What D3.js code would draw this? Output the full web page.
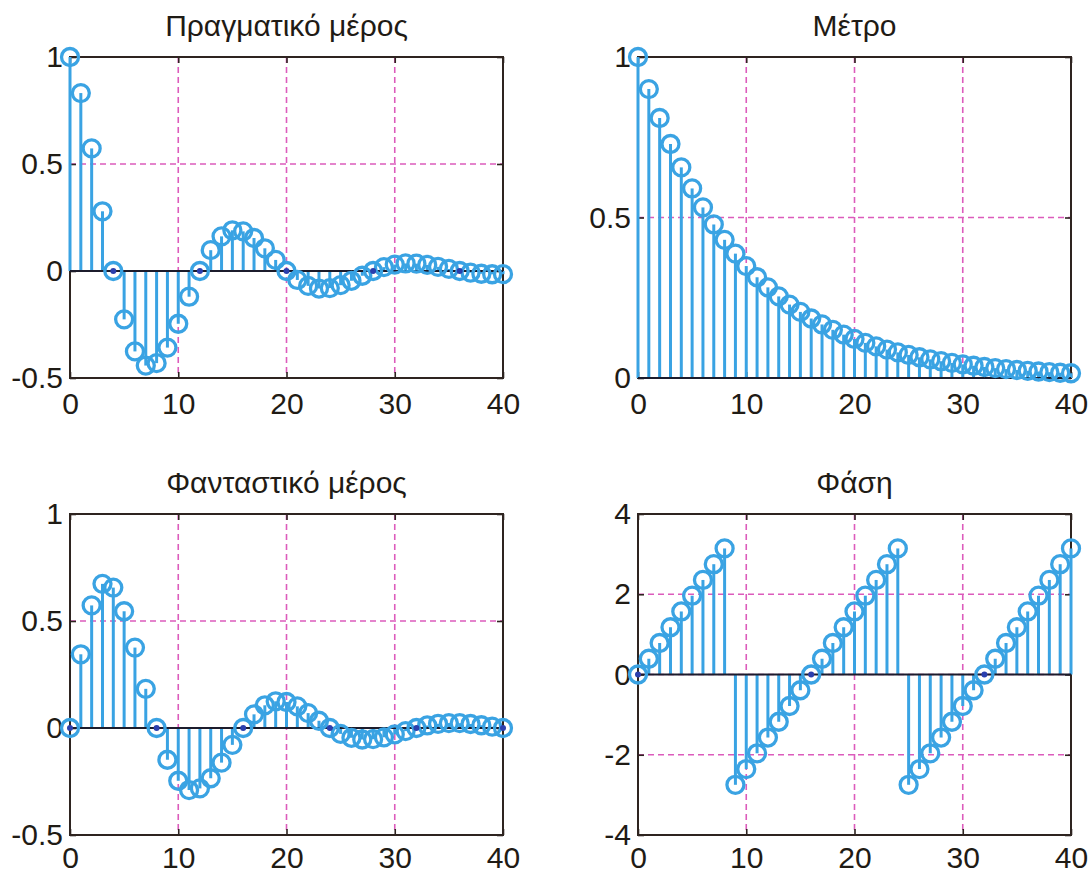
<!DOCTYPE html>
<html>
<head>
<meta charset="utf-8">
<script src="https://cdn.jsdelivr.net/npm/d3@7"></script>
<style>
  html, body { margin: 0; padding: 0; background: #fff; }
  svg { display: block; font-family: "Liberation Sans", Arial, sans-serif; }
</style>
</head>
<body>
<svg id="chart" width="1089" height="874"></svg>
<script>
// Sample index n = 0 … 40
const sampleIndex = d3.range(0, 41);

// Real part of the sequence
const realPart = [
  1.0000, 0.8315, 0.5728, 0.2790, 0.0000, -0.2260, -0.3758, -0.4419, -0.4305, -0.3579,
  -0.2466, -0.1201, 0.0000, 0.0973, 0.1618, 0.1902, 0.1853, 0.1541, 0.1061, 0.0517,
  0.0000, -0.0419, -0.0696, -0.0819, -0.0798, -0.0663, -0.0457, -0.0223, 0.0000, 0.0180,
  0.0300, 0.0352, 0.0343, 0.0286, 0.0197, 0.0096, 0.0000, -0.0078, -0.0129, -0.0152,
  -0.0148
];

// Imaginary part of the sequence
const imagPart = [
  0.0000, 0.3444, 0.5728, 0.6735, 0.6561, 0.5455, 0.3758, 0.1830, 0.0000, -0.1483,
  -0.2466, -0.2899, -0.2824, -0.2348, -0.1618, -0.0788, 0.0000, 0.0638, 0.1061, 0.1248,
  0.1216, 0.1011, 0.0696, 0.0339, 0.0000, -0.0275, -0.0457, -0.0537, -0.0523, -0.0435,
  -0.0300, -0.0146, 0.0000, 0.0118, 0.0197, 0.0231, 0.0225, 0.0187, 0.0129, 0.0063,
  0.0000
];

// Magnitude
const magnitude = [
  1.0000, 0.9000, 0.8100, 0.7290, 0.6561, 0.5905, 0.5314, 0.4783, 0.4305, 0.3874,
  0.3487, 0.3138, 0.2824, 0.2542, 0.2288, 0.2059, 0.1853, 0.1668, 0.1501, 0.1351,
  0.1216, 0.1094, 0.0985, 0.0886, 0.0798, 0.0718, 0.0646, 0.0582, 0.0523, 0.0471,
  0.0424, 0.0382, 0.0343, 0.0309, 0.0278, 0.0250, 0.0225, 0.0203, 0.0182, 0.0164,
  0.0148
];

// Phase (radians)
const phase = [
  0.0000, 0.3927, 0.7854, 1.1781, 1.5708, 1.9635, 2.3562, 2.7489, 3.1416, -2.7489,
  -2.3562, -1.9635, -1.5708, -1.1781, -0.7854, -0.3927, 0.0000, 0.3927, 0.7854, 1.1781,
  1.5708, 1.9635, 2.3562, 2.7489, 3.1416, -2.7489, -2.3562, -1.9635, -1.5708, -1.1781,
  -0.7854, -0.3927, 0.0000, 0.3927, 0.7854, 1.1781, 1.5708, 1.9635, 2.3562, 2.7489,
  3.1416
];

// Axis ticks
const xTicks = [0, 10, 20, 30, 40];
const partTicks = [-0.5, 0, 0.5, 1];
const magnitudeTicks = [0, 0.5, 1];
const phaseTicks = [-4, -2, 0, 2, 4];

const titles = ["Πραγματικό μέρος", "Μέτρο", "Φανταστικό μέρος", "Φάση"];

const panels = [
  { title: titles[0], values: realPart,  domain: [-0.5, 1], ticks: partTicks,      col: 0, row: 0 },
  { title: titles[1], values: magnitude, domain: [0, 1],    ticks: magnitudeTicks, col: 1, row: 0 },
  { title: titles[2], values: imagPart,  domain: [-0.5, 1], ticks: partTicks,      col: 0, row: 1 },
  { title: titles[3], values: phase,     domain: [-4, 4],   ticks: phaseTicks,     col: 1, row: 1 }
];

// Layout
const colX = [70, 638];
const rowY = [57, 514];
const xLabelPad = [15, 12];
const W = 433, H = 321;

const stemColor = "#3aa3e3";
const gridColor = "#dc5cbc";
const boxColor = "#2e2420";
const textColor = "#1f1b15";
const fontSize = "30px";

const svg = d3.select("#chart");

panels.forEach(p => {
  const g = svg.append("g")
    .attr("transform", `translate(${colX[p.col]},${rowY[p.row]})`);

  const x = d3.scaleLinear().domain([0, 40]).range([0, W]);
  const y = d3.scaleLinear().domain(p.domain).range([H, 0]);

  // dashed grid
  const grid = g.append("g");
  grid.selectAll(".vg").data(xTicks.slice(1, -1)).join("line")
    .attr("x1", d => x(d)).attr("x2", d => x(d))
    .attr("y1", 0).attr("y2", H);
  grid.selectAll(".hg").data(p.ticks.filter(t => t > p.domain[0] && t < p.domain[1])).join("line")
    .attr("class", "hg")
    .attr("x1", 0).attr("x2", W)
    .attr("y1", d => y(d)).attr("y2", d => y(d));
  grid.selectAll("line")
    .attr("stroke", gridColor).attr("stroke-width", 1.6)
    .attr("stroke-dasharray", "6,4");

  // axes with inward ticks
  const styleAxis = sel => {
    sel.select(".domain").remove();
    sel.selectAll(".tick line").attr("stroke", boxColor).attr("stroke-width", 1.6);
    sel.selectAll(".tick text")
      .attr("fill", textColor)
      .style("font-size", fontSize)
      .style("font-family", "'Liberation Sans', Arial, sans-serif");
  };
  g.append("g").attr("transform", `translate(0,${H})`)
    .call(d3.axisBottom(x).tickValues(xTicks).tickFormat(d3.format("d"))
      .tickSizeInner(-6).tickSizeOuter(0).tickPadding(xLabelPad[p.row]))
    .call(styleAxis);
  g.append("g")
    .call(d3.axisTop(x).tickValues(xTicks).tickFormat("").tickSizeInner(-6).tickSizeOuter(0))
    .call(styleAxis);
  g.append("g")
    .call(d3.axisLeft(y).tickValues(p.ticks).tickFormat(d => String(d))
      .tickSizeInner(-6).tickSizeOuter(0).tickPadding(7))
    .call(styleAxis);
  g.append("g").attr("transform", `translate(${W},0)`)
    .call(d3.axisRight(y).tickValues(p.ticks).tickFormat("").tickSizeInner(-6).tickSizeOuter(0))
    .call(styleAxis);

  // box
  g.append("rect").attr("x", 0).attr("y", 0).attr("width", W).attr("height", H)
    .attr("fill", "none").attr("stroke", boxColor).attr("stroke-width", 2);

  // stems
  g.append("g").selectAll("line").data(p.values).join("line")
    .attr("x1", (d, i) => x(sampleIndex[i])).attr("x2", (d, i) => x(sampleIndex[i]))
    .attr("y1", y(0)).attr("y2", d => y(d))
    .attr("stroke", stemColor).attr("stroke-width", 3);

  // baseline
  g.append("line")
    .attr("x1", 0).attr("x2", W).attr("y1", y(0)).attr("y2", y(0))
    .attr("stroke", "#1c1c2c").attr("stroke-width", 2);

  // markers
  g.append("g").selectAll("circle").data(p.values).join("circle")
    .attr("cx", (d, i) => x(sampleIndex[i])).attr("cy", d => y(d))
    .attr("r", 8.5)
    .attr("fill", "none").attr("stroke", stemColor).attr("stroke-width", 3.3);

  // centre dot on samples sitting on the baseline
  g.append("g").selectAll("circle")
    .data(p.values.map((v, i) => ({ v, n: sampleIndex[i] })).filter(d => d.v === 0))
    .join("circle")
    .attr("cx", d => x(d.n)).attr("cy", d => y(d.v))
    .attr("r", 3).attr("fill", "#2b3fae");

  // title
  g.append("text")
    .attr("x", W / 2).attr("y", -21)
    .attr("text-anchor", "middle")
    .attr("fill", textColor)
    .style("font-size", fontSize)
    .text(p.title);
});
</script>
</body>
</html>
